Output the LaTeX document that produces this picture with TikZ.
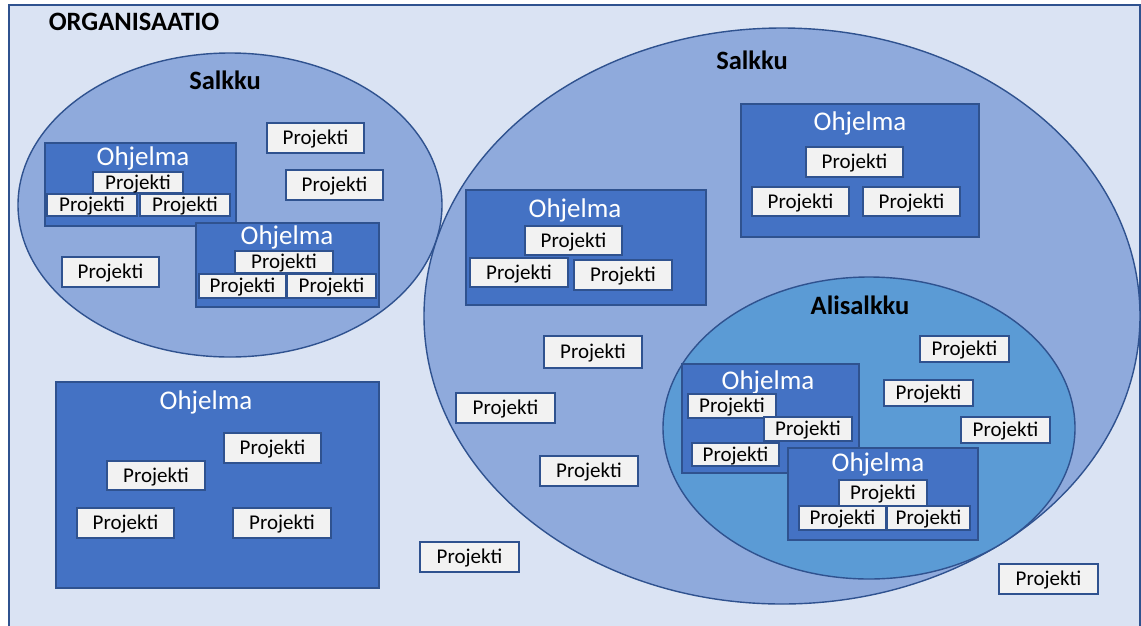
\documentclass[tikz,border=0pt]{standalone}
\usepackage{fontspec}
\setmainfont{Carlito}
\usetikzlibrary{shapes.geometric}
\definecolor{orgbg}{HTML}{DAE3F3}
\definecolor{edge}{HTML}{2F528F}
\definecolor{salkkufill}{HTML}{8FAADC}
\definecolor{alifill}{HTML}{5B9BD5}
\definecolor{progfill}{HTML}{4472C4}
\definecolor{projfill}{HTML}{F2F2F2}
\tikzset{
  org/.style={fill=orgbg, draw=edge, line width=1.8pt},
  salkku/.style={ellipse, fill=salkkufill, draw=edge, line width=1.4pt, inner sep=0pt},
  alisalkku/.style={ellipse, fill=alifill, draw=edge, line width=1.4pt, inner sep=0pt},
  prog/.style={rectangle, fill=progfill, draw=edge, line width=1.4pt, inner sep=0pt},
  proj/.style={rectangle, fill=projfill, draw=edge, line width=1.4pt, inner sep=0pt,
    font=\fontsize{21}{24}\selectfont, text=black, text height=13pt, text depth=0pt},
  progtitle/.style={text=white, inner sep=0pt, font=\fontsize{27}{30}\selectfont},
  title/.style={text=black, inner sep=0pt, font=\fontsize{26.5}{30}\selectfont\bfseries}
}
\newcommand{\pbox}[5]{%
  \pgfmathsetmacro{\pw}{#4-#2}\pgfmathsetmacro{\ph}{#5-#3}%
  \node[proj, minimum width=\pw pt, minimum height=\ph pt] (#1) at ({(#2+#4)/2},{(#3+#5)/2}) {Projekti};}
\newcommand{\progbox}[7]{% name, x1,y1,x2,y2, titlex, titley
  \pgfmathsetmacro{\pw}{#4-#2}\pgfmathsetmacro{\ph}{#5-#3}%
  \node[prog, minimum width=\pw pt, minimum height=\ph pt] (#1) at ({(#2+#4)/2},{(#3+#5)/2}) {};
  \node[progtitle] (#1t) at (#6,#7) {Ohjelma};}
\begin{document}
\begin{tikzpicture}[x=1pt,y=-1pt]
\useasboundingbox (0,0) rectangle (1141,625);
\clip (0,0) rectangle (1141,625);
\draw[org] (9,5) rectangle (1140,660);
\node[title] (orgt) at (134,22) {ORGANISAATIO};

% left portfolio
\node[salkku, minimum width=424pt, minimum height=304pt] (s1) at (230,205) {};
\node[title] (s1t) at (225,80) {Salkku};
\progbox{pa}{45}{143}{236}{226}{143}{158}
\pbox{pa1}{93}{172}{183}{193}
\pbox{pa2}{47}{194}{137}{216}
\pbox{pa3}{140}{194}{230}{216}
\progbox{pb}{196}{223}{379}{307}{287}{237}
\pbox{pb1}{235}{251}{333}{273}
\pbox{pb2}{199}{274}{286}{298}
\pbox{pb3}{287}{274}{376}{298}
\pbox{s1p1}{267}{123}{364}{153}
\pbox{s1p2}{286}{170}{383}{200}
\pbox{s1p3}{62}{257}{159}{287}

% bottom-left programme
\progbox{pg}{56}{382}{379}{588}{206}{402}
\pbox{pg1}{224}{433}{321}{463}
\pbox{pg2}{107}{461}{205}{490}
\pbox{pg3}{77}{508}{174}{538}
\pbox{pg4}{233}{508}{331}{538}

% right portfolio
\node[salkku, minimum width=716pt, minimum height=576pt] (s2) at (782,316) {};
\node[title] (s2t) at (752,60) {Salkku};
\progbox{pc}{466}{190}{706}{305}{575}{210}
\pbox{pc1}{525}{226}{622}{255}
\pbox{pc2}{470}{258}{568}{287}
\pbox{pc3}{574}{260}{672}{290}
\progbox{pd}{741}{104}{979}{237}{860}{123}
\pbox{pd1}{806}{147}{903}{177}
\pbox{pd2}{752}{187}{849}{216}
\pbox{pd3}{863}{187}{960}{216}
\pbox{s2p1}{544}{336}{642}{368}
\pbox{s2p2}{456}{393}{555}{423}
\pbox{s2p3}{540}{456}{638}{486}

% sub-portfolio
\node[alisalkku, minimum width=412pt, minimum height=302pt] (as) at (869,428) {};
\node[title] (ast) at (860,305) {Alisalkku};
\progbox{pe}{682}{364}{859}{473}{768}{382}
\pbox{pe1}{688}{394}{776}{418}
\pbox{pe2}{764}{417}{852}{441}
\pbox{pe3}{692}{443}{779}{466}
\progbox{pf}{788}{448}{978}{540}{878}{464}
\pbox{pf1}{839}{480}{927}{506}
\pbox{pf2}{799}{506}{886}{530}
\pbox{pf3}{887}{506}{970}{530}
\pbox{asp1}{920}{336}{1009}{362}
\pbox{asp2}{884}{380}{973}{406}
\pbox{asp3}{961}{417}{1050}{443}

% loose projects in organisation
\pbox{op1}{420}{542}{519}{572}
\pbox{op2}{999}{564}{1098}{594}
\end{tikzpicture}
\end{document}
